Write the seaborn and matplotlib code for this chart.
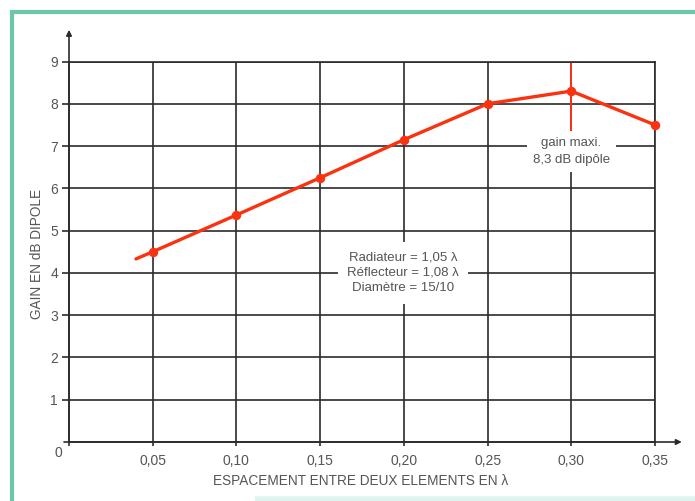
import numpy as np
import pandas as pd
import matplotlib.pyplot as plt
import seaborn as sns
from matplotlib.lines import Line2D

# data
spacing = [0.04, 0.05, 0.10, 0.15, 0.20, 0.25, 0.30, 0.35]
gain = [4.33, 4.50, 5.37, 6.25, 7.15, 8.00, 8.30, 7.50]
xticks = [0.05, 0.10, 0.15, 0.20, 0.25, 0.30, 0.35]
xlabels = ["0,05", "0,10", "0,15", "0,20", "0,25", "0,30", "0,35"]
yticks = [1, 2, 3, 4, 5, 6, 7, 8, 9]
peak_x, peak_y = 0.30, 8.3

sns.set_style("white")
plt.rcParams["font.family"] = ["Liberation Sans", "DejaVu Sans"]

red = "#fa3210"
grid_c = "#2b2b2b"
txt_c = "#555555"

fig = plt.figure(figsize=(6.95, 5.01), dpi=100)
ax = fig.add_axes([69 / 695, 1 - 442 / 501, 586 / 695, 380.5 / 501])

df = pd.DataFrame({"x": spacing, "y": gain})
sns.lineplot(data=df, x="x", y="y", ax=ax, color=red, lw=2.4, marker="o",
             markersize=6.8, markeredgewidth=0, markevery=list(range(1, len(df))),
             zorder=4, clip_on=False)

ax.set_xlim(0, 0.35)
ax.set_ylim(0, 9)
ax.set_xticks(xticks)
ax.set_xticklabels(xlabels)
ax.set_yticks(yticks)
ax.grid(True, color=grid_c, lw=1.2)
for s in ax.spines.values():
    s.set_color(grid_c)
    s.set_linewidth(1.2)
ax.tick_params(axis="y", length=5, width=1.2, color=grid_c, pad=3,
               labelsize=10, labelcolor=txt_c, left=True)
ax.tick_params(axis="x", length=3, width=1.2, color=grid_c, pad=5.5,
               labelsize=10, labelcolor=txt_c, bottom=True)
ax.set_xlabel("")
ax.set_ylabel("")

# axis arrows
ax.annotate("", xy=(0, 9.75), xytext=(0, -0.08), annotation_clip=False,
            arrowprops=dict(arrowstyle="-|>", color=grid_c, lw=1.2,
                            mutation_scale=8, shrinkA=0, shrinkB=0))
ax.annotate("", xy=(0.366, 0), xytext=(-0.003, 0), annotation_clip=False,
            arrowprops=dict(arrowstyle="-|>", color=grid_c, lw=1.2,
                            mutation_scale=8, shrinkA=0, shrinkB=0))
ax.annotate("0", xy=(0, 0), xytext=(-8, -8), textcoords="offset points",
            ha="center", va="center", fontsize=10, color=txt_c,
            annotation_clip=False)

# peak marker and labels
ax.vlines(peak_x, 7.3, 9, color=red, lw=1.4, zorder=2.5)
ax.text(peak_x, 6.87, "gain maxi.\n8,3 dB dipôle", ha="center", va="center",
        fontsize=9.5, color=txt_c, linespacing=1.5, zorder=3,
        bbox=dict(boxstyle="square,pad=0.45", fc="white", ec="none"))
ax.text(0.1996, 4.0, "Radiateur = 1,05 λ\nRéflecteur = 1,08 λ\nDiamètre = 15/10",
        ha="center", va="center", fontsize=9.5, color=txt_c, linespacing=1.4,
        zorder=3, bbox=dict(boxstyle="square,pad=0.7", fc="white", ec="none"))

ax.text(-0.0546, 0.494, "GAIN EN dB DIPOLE", transform=ax.transAxes,
        rotation=90, ha="center", va="center", fontsize=9.8, color=txt_c)
ax.text(0.498, -0.1025, "ESPACEMENT ENTRE DEUX ELEMENTS EN λ",
        transform=ax.transAxes, ha="center", va="center", fontsize=9.8,
        color=txt_c)

# green frame
frame_c = "#6cc7a6"
fig.add_artist(Line2D([10 / 695, 1], [1 - 12 / 501, 1 - 12 / 501],
                      color=frame_c, lw=3, solid_capstyle="butt",
                      transform=fig.transFigure))
fig.add_artist(Line2D([12 / 695, 12 / 695], [0, 1 - 10 / 501],
                      color=frame_c, lw=3, solid_capstyle="butt",
                      transform=fig.transFigure))
fig.add_artist(Line2D([255 / 695, 1], [2 / 501, 2 / 501],
                      color="#dff4ee", lw=4, solid_capstyle="butt",
                      transform=fig.transFigure))

fig.savefig("out.png", dpi=100)
